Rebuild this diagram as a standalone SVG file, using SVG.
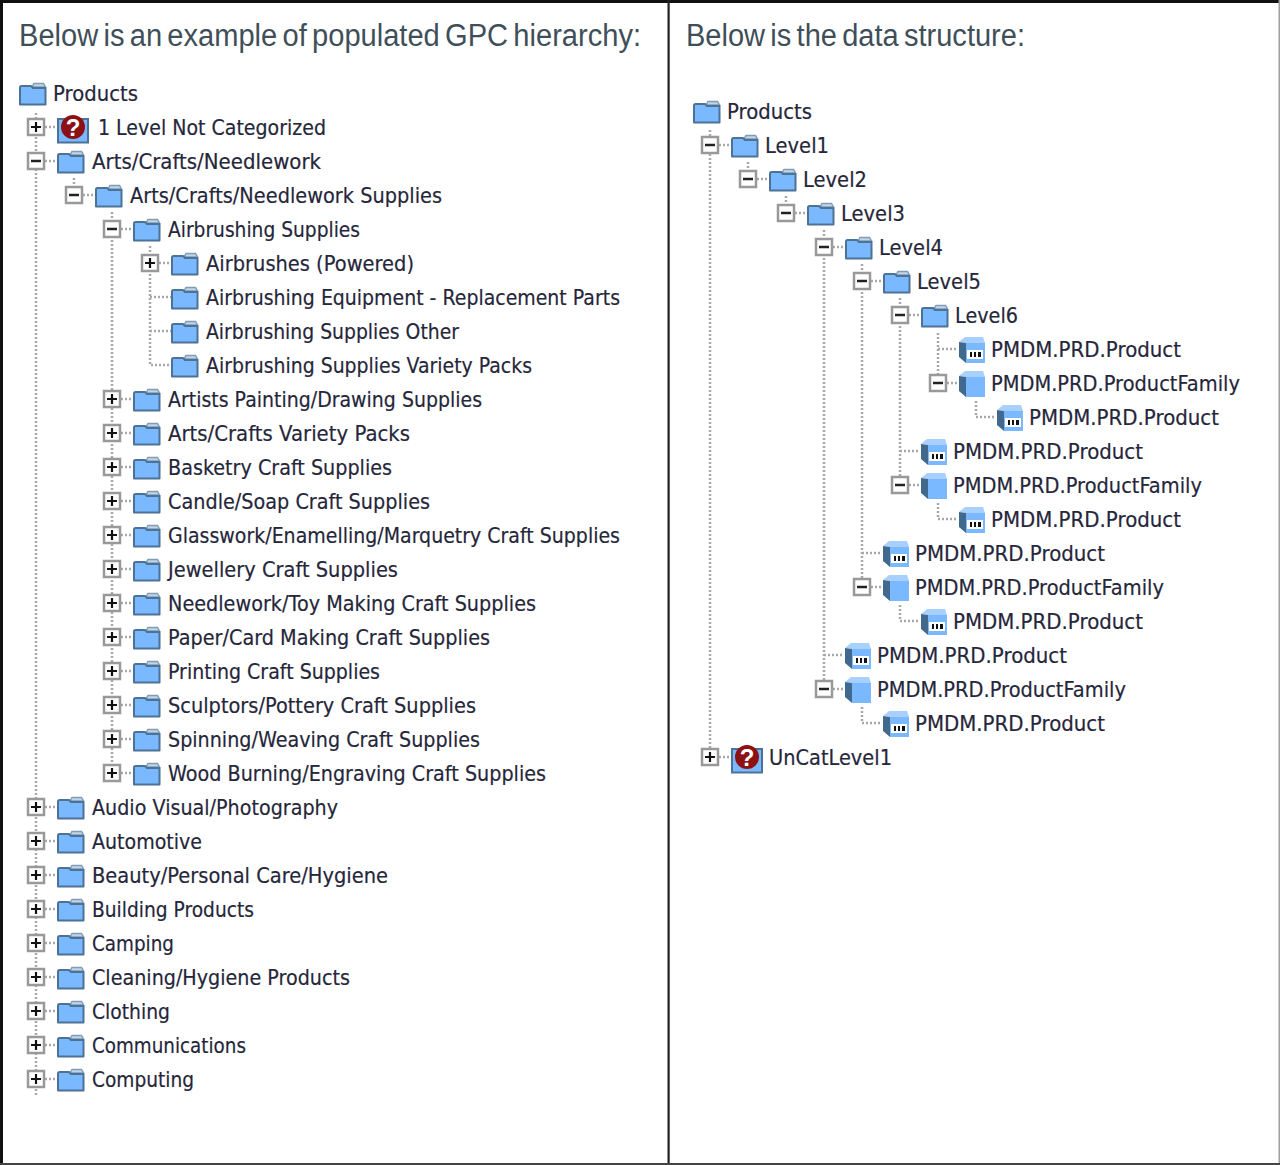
<svg xmlns="http://www.w3.org/2000/svg" width="1280" height="1165" viewBox="0 0 1280 1165">
<style>
text{font-family:"DejaVu Sans","Noto Sans",sans-serif;font-size:21.5px;fill:#25263a;stroke:#25263a;stroke-width:.2}
text.h{font-family:"Liberation Sans",Arial,sans-serif;font-size:31px;word-spacing:-3px;fill:#3f4f5a;stroke:none}
text.q{font-family:"Liberation Sans",sans-serif;font-size:24px;font-weight:bold;fill:#fff;stroke:none;text-anchor:middle}
.c{fill:none;stroke:#a8a8a8;stroke-width:2.500;stroke-dasharray:2 2}
.b{fill:#fff;stroke:#999;stroke-width:2.500}
</style>
<defs>
<g id="folder"><path d="M13,-7L15,-10.500H24.500L26.500,-7Z" fill="#c4d4e4" stroke="#7f9db8" stroke-width="1.500"/><path d="M1,-6.500Q1,-8 2.500,-8H12L14,-6H26.500V10.500H1Z" fill="#7ab8ff" stroke="#4c7396" stroke-width="2" stroke-linejoin="round"/></g>
<g id="uncat"><path d="M1,-8H31V15.500H1Z" fill="#7ab8ff" stroke="#4c7396" stroke-width="2"/><circle cx="16" cy="0" r="12" fill="#8c1014"/><text class="q" x="16" y="8.500">?</text></g>
<g id="family"><path d="M1,-7L7,-12H25L27,-6H8Z" fill="#a8d0ff"/><path d="M1,-7L8,-6V14L1,8Z" fill="#41698e"/><rect x="8" y="-6" width="19" height="20" fill="#7ab8ff"/></g>
<g id="product"><use href="#family"/><rect x="9" y="1" width="16" height="9" fill="#fff"/><path d="M12,3h2v5h-2zM16,3h2v5h-2zM20,3h3v5h-3z" fill="#111"/></g>
<g id="box"><rect x="-8" y="-8" width="16" height="16" class="b"/></g>
<g id="minus"><use href="#box"/><path d="M-5,0H5" stroke="#222" stroke-width="2.500"/></g>
<g id="plus"><use href="#box"/><path d="M-5,0H5M0,-5V5" stroke="#111" stroke-width="2.200"/></g>
</defs>
<rect width="1280" height="1165" fill="#fff"/>
<g id="frame">
<rect x="0" y="0" width="1280" height="3" fill="#111"/>
<rect x="0" y="0" width="3" height="1165" fill="#111"/>
<rect x="667.500" y="0" width="2.200" height="1165" fill="#222"/>
<rect x="1278.500" y="0" width="1.500" height="1165" fill="#a0a0a0"/>
<rect x="0" y="1163" width="1280" height="2" fill="#444"/>
</g>
<text class="h" x="19" y="46" textLength="622" lengthAdjust="spacingAndGlyphs">Below is an example of populated GPC hierarchy:</text>
<text class="h" x="686" y="46" textLength="339" lengthAdjust="spacingAndGlyphs">Below is the data structure:</text>
<g id="connectors">
<path class="c" d="M36,113V1095M45,127H57M45,161H57M45,807H57M45,841H57M45,875H57M45,909H57M45,943H57M45,977H57M45,1011H57M45,1045H57M45,1079H57"/>
<path class="c" d="M74,178V186M83,195H95"/>
<path class="c" d="M112,212V764M121,229H133M121,399H133M121,433H133M121,467H133M121,501H133M121,535H133M121,569H133M121,603H133M121,637H133M121,671H133M121,705H133M121,739H133M121,773H133"/>
<path class="c" d="M150,246V365H171M159,263H171M150,297H171M150,331H171"/>
<path class="c" d="M710,130V748M719,145H731M719,757H731"/>
<path class="c" d="M748,162V170M757,179H769M786,196V204M795,213H807"/>
<path class="c" d="M824,230V680M833,247H845M824,655H844M833,689H844"/>
<path class="c" d="M862,264V578M871,281H883M862,553H882M871,587H882M862,707V723H882"/>
<path class="c" d="M900,298V476M909,315H921M900,451H920M909,485H920M900,605V621H920"/>
<path class="c" d="M938,333V374M938,349H958M947,383H958M976,401V417H996M938,503V519H958"/>
</g>
<g id="tree-left">
<g id="l-products"><use href="#folder" x="19" y="94"/><text x="53" y="101" textLength="85" lengthAdjust="spacingAndGlyphs">Products</text></g>
<g id="l-notcat"><use href="#plus" x="36" y="127"/><use href="#uncat" x="57" y="127"/><text x="98" y="135" textLength="228" lengthAdjust="spacingAndGlyphs">1 Level Not Categorized</text></g>
<g id="l-arts"><use href="#minus" x="36" y="161"/><use href="#folder" x="57" y="162"/><text x="92" y="169" textLength="229" lengthAdjust="spacingAndGlyphs">Arts/Crafts/Needlework</text></g>
<g id="l-arts-supplies"><use href="#minus" x="74" y="195"/><use href="#folder" x="95" y="196"/><text x="130" y="203" textLength="312" lengthAdjust="spacingAndGlyphs">Arts/Crafts/Needlework Supplies</text></g>
<g id="l-airbrushing"><use href="#minus" x="112" y="229"/><use href="#folder" x="133" y="230"/><text x="168" y="237" textLength="192" lengthAdjust="spacingAndGlyphs">Airbrushing Supplies</text></g>
<g id="l-airbrushes"><use href="#plus" x="150" y="263"/><use href="#folder" x="171" y="264"/><text x="206" y="271" textLength="208" lengthAdjust="spacingAndGlyphs">Airbrushes (Powered)</text></g>
<g id="l-equipment"><use href="#folder" x="171" y="298"/><text x="206" y="305" textLength="414" lengthAdjust="spacingAndGlyphs">Airbrushing Equipment - Replacement Parts</text></g>
<g id="l-other"><use href="#folder" x="171" y="332"/><text x="206" y="339" textLength="253" lengthAdjust="spacingAndGlyphs">Airbrushing Supplies Other</text></g>
<g id="l-variety"><use href="#folder" x="171" y="366"/><text x="206" y="373" textLength="326" lengthAdjust="spacingAndGlyphs">Airbrushing Supplies Variety Packs</text></g>
<g id="l-artists"><use href="#plus" x="112" y="399"/><use href="#folder" x="133" y="400"/><text x="168" y="407" textLength="314" lengthAdjust="spacingAndGlyphs">Artists Painting/Drawing Supplies</text></g>
<g id="l-artsvariety"><use href="#plus" x="112" y="433"/><use href="#folder" x="133" y="434"/><text x="168" y="441" textLength="242" lengthAdjust="spacingAndGlyphs">Arts/Crafts Variety Packs</text></g>
<g id="l-basketry"><use href="#plus" x="112" y="467"/><use href="#folder" x="133" y="468"/><text x="168" y="475" textLength="224" lengthAdjust="spacingAndGlyphs">Basketry Craft Supplies</text></g>
<g id="l-candle"><use href="#plus" x="112" y="501"/><use href="#folder" x="133" y="502"/><text x="168" y="509" textLength="262" lengthAdjust="spacingAndGlyphs">Candle/Soap Craft Supplies</text></g>
<g id="l-glasswork"><use href="#plus" x="112" y="535"/><use href="#folder" x="133" y="536"/><text x="168" y="543" textLength="452" lengthAdjust="spacingAndGlyphs">Glasswork/Enamelling/Marquetry Craft Supplies</text></g>
<g id="l-jewellery"><use href="#plus" x="112" y="569"/><use href="#folder" x="133" y="570"/><text x="168" y="577" textLength="230" lengthAdjust="spacingAndGlyphs">Jewellery Craft Supplies</text></g>
<g id="l-needlework"><use href="#plus" x="112" y="603"/><use href="#folder" x="133" y="604"/><text x="168" y="611" textLength="368" lengthAdjust="spacingAndGlyphs">Needlework/Toy Making Craft Supplies</text></g>
<g id="l-paper"><use href="#plus" x="112" y="637"/><use href="#folder" x="133" y="638"/><text x="168" y="645" textLength="322" lengthAdjust="spacingAndGlyphs">Paper/Card Making Craft Supplies</text></g>
<g id="l-printing"><use href="#plus" x="112" y="671"/><use href="#folder" x="133" y="672"/><text x="168" y="679" textLength="212" lengthAdjust="spacingAndGlyphs">Printing Craft Supplies</text></g>
<g id="l-sculptors"><use href="#plus" x="112" y="705"/><use href="#folder" x="133" y="706"/><text x="168" y="713" textLength="308" lengthAdjust="spacingAndGlyphs">Sculptors/Pottery Craft Supplies</text></g>
<g id="l-spinning"><use href="#plus" x="112" y="739"/><use href="#folder" x="133" y="740"/><text x="168" y="747" textLength="312" lengthAdjust="spacingAndGlyphs">Spinning/Weaving Craft Supplies</text></g>
<g id="l-wood"><use href="#plus" x="112" y="773"/><use href="#folder" x="133" y="774"/><text x="168" y="781" textLength="378" lengthAdjust="spacingAndGlyphs">Wood Burning/Engraving Craft Supplies</text></g>
<g id="l-audio"><use href="#plus" x="36" y="807"/><use href="#folder" x="57" y="808"/><text x="92" y="815" textLength="246" lengthAdjust="spacingAndGlyphs">Audio Visual/Photography</text></g>
<g id="l-automotive"><use href="#plus" x="36" y="841"/><use href="#folder" x="57" y="842"/><text x="92" y="849" textLength="110" lengthAdjust="spacingAndGlyphs">Automotive</text></g>
<g id="l-beauty"><use href="#plus" x="36" y="875"/><use href="#folder" x="57" y="876"/><text x="92" y="883" textLength="296" lengthAdjust="spacingAndGlyphs">Beauty/Personal Care/Hygiene</text></g>
<g id="l-building"><use href="#plus" x="36" y="909"/><use href="#folder" x="57" y="910"/><text x="92" y="917" textLength="162" lengthAdjust="spacingAndGlyphs">Building Products</text></g>
<g id="l-camping"><use href="#plus" x="36" y="943"/><use href="#folder" x="57" y="944"/><text x="92" y="951" textLength="82" lengthAdjust="spacingAndGlyphs">Camping</text></g>
<g id="l-cleaning"><use href="#plus" x="36" y="977"/><use href="#folder" x="57" y="978"/><text x="92" y="985" textLength="258" lengthAdjust="spacingAndGlyphs">Cleaning/Hygiene Products</text></g>
<g id="l-clothing"><use href="#plus" x="36" y="1011"/><use href="#folder" x="57" y="1012"/><text x="92" y="1019" textLength="78" lengthAdjust="spacingAndGlyphs">Clothing</text></g>
<g id="l-communications"><use href="#plus" x="36" y="1045"/><use href="#folder" x="57" y="1046"/><text x="92" y="1053" textLength="154" lengthAdjust="spacingAndGlyphs">Communications</text></g>
<g id="l-computing"><use href="#plus" x="36" y="1079"/><use href="#folder" x="57" y="1080"/><text x="92" y="1087" textLength="102" lengthAdjust="spacingAndGlyphs">Computing</text></g>
</g>
<g id="tree-right">
<g id="r-products"><use href="#folder" x="693" y="112"/><text x="727" y="119" textLength="85" lengthAdjust="spacingAndGlyphs">Products</text></g>
<g id="r-level1"><use href="#minus" x="710" y="145"/><use href="#folder" x="731" y="146"/><text x="765" y="153" textLength="64" lengthAdjust="spacingAndGlyphs">Level1</text></g>
<g id="r-level2"><use href="#minus" x="748" y="179"/><use href="#folder" x="769" y="180"/><text x="803" y="187" textLength="64" lengthAdjust="spacingAndGlyphs">Level2</text></g>
<g id="r-level3"><use href="#minus" x="786" y="213"/><use href="#folder" x="807" y="214"/><text x="841" y="221" textLength="64" lengthAdjust="spacingAndGlyphs">Level3</text></g>
<g id="r-level4"><use href="#minus" x="824" y="247"/><use href="#folder" x="845" y="248"/><text x="879" y="255" textLength="64" lengthAdjust="spacingAndGlyphs">Level4</text></g>
<g id="r-level5"><use href="#minus" x="862" y="281"/><use href="#folder" x="883" y="282"/><text x="917" y="289" textLength="64" lengthAdjust="spacingAndGlyphs">Level5</text></g>
<g id="r-level6"><use href="#minus" x="900" y="315"/><use href="#folder" x="921" y="316"/><text x="955" y="323" textLength="63" lengthAdjust="spacingAndGlyphs">Level6</text></g>
<g id="r-p1"><use href="#product" x="958" y="349"/><text x="991" y="357" textLength="190" lengthAdjust="spacingAndGlyphs">PMDM.PRD.Product</text></g>
<g id="r-f1"><use href="#minus" x="938" y="383"/><use href="#family" x="958" y="383"/><text x="991" y="391" textLength="249" lengthAdjust="spacingAndGlyphs">PMDM.PRD.ProductFamily</text></g>
<g id="r-p2"><use href="#product" x="996" y="417"/><text x="1029" y="425" textLength="190" lengthAdjust="spacingAndGlyphs">PMDM.PRD.Product</text></g>
<g id="r-p3"><use href="#product" x="920" y="451"/><text x="953" y="459" textLength="190" lengthAdjust="spacingAndGlyphs">PMDM.PRD.Product</text></g>
<g id="r-f2"><use href="#minus" x="900" y="485"/><use href="#family" x="920" y="485"/><text x="953" y="493" textLength="249" lengthAdjust="spacingAndGlyphs">PMDM.PRD.ProductFamily</text></g>
<g id="r-p4"><use href="#product" x="958" y="519"/><text x="991" y="527" textLength="190" lengthAdjust="spacingAndGlyphs">PMDM.PRD.Product</text></g>
<g id="r-p5"><use href="#product" x="882" y="553"/><text x="915" y="561" textLength="190" lengthAdjust="spacingAndGlyphs">PMDM.PRD.Product</text></g>
<g id="r-f3"><use href="#minus" x="862" y="587"/><use href="#family" x="882" y="587"/><text x="915" y="595" textLength="249" lengthAdjust="spacingAndGlyphs">PMDM.PRD.ProductFamily</text></g>
<g id="r-p6"><use href="#product" x="920" y="621"/><text x="953" y="629" textLength="190" lengthAdjust="spacingAndGlyphs">PMDM.PRD.Product</text></g>
<g id="r-p7"><use href="#product" x="844" y="655"/><text x="877" y="663" textLength="190" lengthAdjust="spacingAndGlyphs">PMDM.PRD.Product</text></g>
<g id="r-f4"><use href="#minus" x="824" y="689"/><use href="#family" x="844" y="689"/><text x="877" y="697" textLength="249" lengthAdjust="spacingAndGlyphs">PMDM.PRD.ProductFamily</text></g>
<g id="r-p8"><use href="#product" x="882" y="723"/><text x="915" y="731" textLength="190" lengthAdjust="spacingAndGlyphs">PMDM.PRD.Product</text></g>
<g id="r-uncat"><use href="#plus" x="710" y="757"/><use href="#uncat" x="731" y="757"/><text x="769" y="765" textLength="123" lengthAdjust="spacingAndGlyphs">UnCatLevel1</text></g>
</g>
</svg>
